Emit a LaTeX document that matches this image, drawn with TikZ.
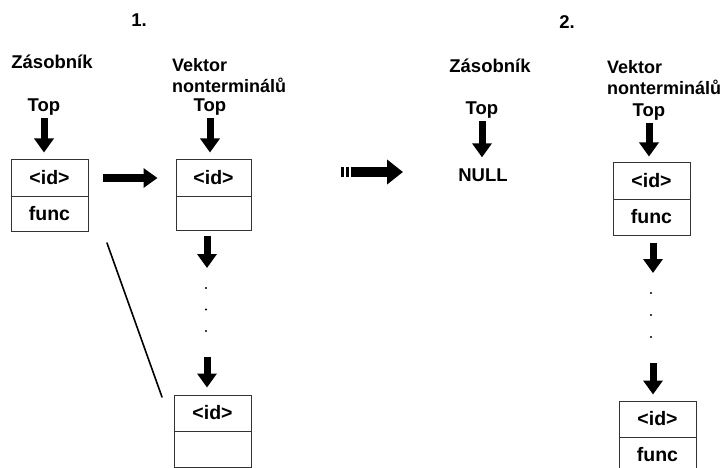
\documentclass[tikz,border=0pt]{standalone}
\usepackage{fontspec}
\setmainfont{Liberation Sans}
\usetikzlibrary{arrows.meta,calc}

\tikzset{
  lbl/.style={font=\bfseries\fontsize{18.5}{21}\selectfont, inner sep=0pt},
  vlbl/.style={lbl, font=\bfseries\fontsize{18}{21}\selectfont, anchor=west, align=left},
  cell/.style={draw=black!80, line width=1pt, minimum width=77pt, minimum height=36pt,
               inner sep=0pt, font=\bfseries\fontsize{19.5}{22}\selectfont},
  fat/.style={line width=7pt, -{Triangle[length=14pt,width=19pt]}},
  dotmark/.style={fill=black, circle, inner sep=0pt, minimum size=2.4pt}
}

\begin{document}
\begin{tikzpicture}[x=1pt, y=-1pt]
\useasboundingbox (0,0) rectangle (723,468);

% ---------- part 1 ----------
\node[lbl] (n1) at (139,20) {1.};
\node[lbl] (zas1) at (52,62) {Zásobník};
\node[lbl] (top1) at (44,107) {Top};
\node[vlbl] (vek1) at (172,75.5) {Vektor\\nonterminálů};
\node[lbl] (top2) at (210,107) {Top};

% stack cell
\node[cell] (b1a) at (49.5,178) {<id>};
\node[cell, minimum height=35pt] (b1b) at (49.5,213.5) {func};

% vector cells
\node[cell, minimum width=75pt] (b2a) at (213.5,178) {<id>};
\node[cell, minimum width=75pt, minimum height=34pt] (b2b) at (213.5,213) {};

\node[cell] (b3a) at (212.5,413) {<id>};
\node[cell] (b3b) at (212.5,449) {};

% pointers
\draw[fat, shorten <=3pt, shorten >=7pt] (top1.south) -- (top1.south |- b1a.north);
\draw[fat, shorten <=3pt, shorten >=7pt] (top2.south) -- (top2.south |- b2a.north);
\draw[fat, shorten <=14pt, shorten >=18pt] (b1a.east) -- (b2a.west);

% continuation of the vector
\coordinate (v2a) at (207,268);
\coordinate (v2b) at (207,357);
\draw[fat, shorten <=5pt] (v2a |- b2b.south) -- (v2a);
\node[dotmark] (d1) at (206,288) {};
\node[dotmark] (d2) at (206,309.5) {};
\node[dotmark] (d3) at (206,331) {};
\draw[fat, shorten >=7pt] (v2b) -- (v2b |- b3a.north);

% diagonal link
\coordinate (l1) at (107,243);
\coordinate (l2) at (162,397);
\draw[line width=1.6pt, line cap=round] (l1) -- (l2);

% ---------- transition arrow ----------
\fill (340.7,167) rectangle (344,177);
\fill (345.7,167) rectangle (348.7,177);
\coordinate (ta) at (350.5,172);
\coordinate (tb) at (403,172);
\draw[line width=10pt, -{Triangle[length=16pt,width=24pt]}] (ta) -- (tb);

% ---------- part 2 ----------
\node[lbl] (n2) at (567,22) {2.};
\node[lbl] (zas2) at (490,66) {Zásobník};
\node[lbl] (top3) at (482,110) {Top};
\node[lbl] (null) at (483,175) {NULL};
\node[vlbl] (vek2) at (607,78) {Vektor\\nonterminálů};
\node[lbl] (top4) at (649,112) {Top};

\draw[fat, shorten <=3pt, shorten >=11pt] (top3.south) -- (top3.south |- null.north);

\node[cell] (b4a) at (651.5,181) {<id>};
\node[cell] (b4b) at (651.5,217) {func};
\draw[fat, shorten <=3pt, shorten >=6pt] (top4.south) -- (top4.south |- b4a.north);

\begin{scope}
\clip (0,0) rectangle (723,468);
\node[cell] (b5a) at (657.5,419) {<id>};
\node[cell] (b5b) at (657.5,455) {func};
\end{scope}

\coordinate (v4a) at (653,273);
\coordinate (v4b) at (653,363);
\draw[fat, shorten <=7pt] (v4a |- b4b.south) -- (v4a);
\node[dotmark] (e1) at (651,293) {};
\node[dotmark] (e2) at (651,315) {};
\node[dotmark] (e3) at (651,337) {};
\draw[fat, shorten >=6pt] (v4b) -- (v4b |- b5a.north);
\end{tikzpicture}
\end{document}
